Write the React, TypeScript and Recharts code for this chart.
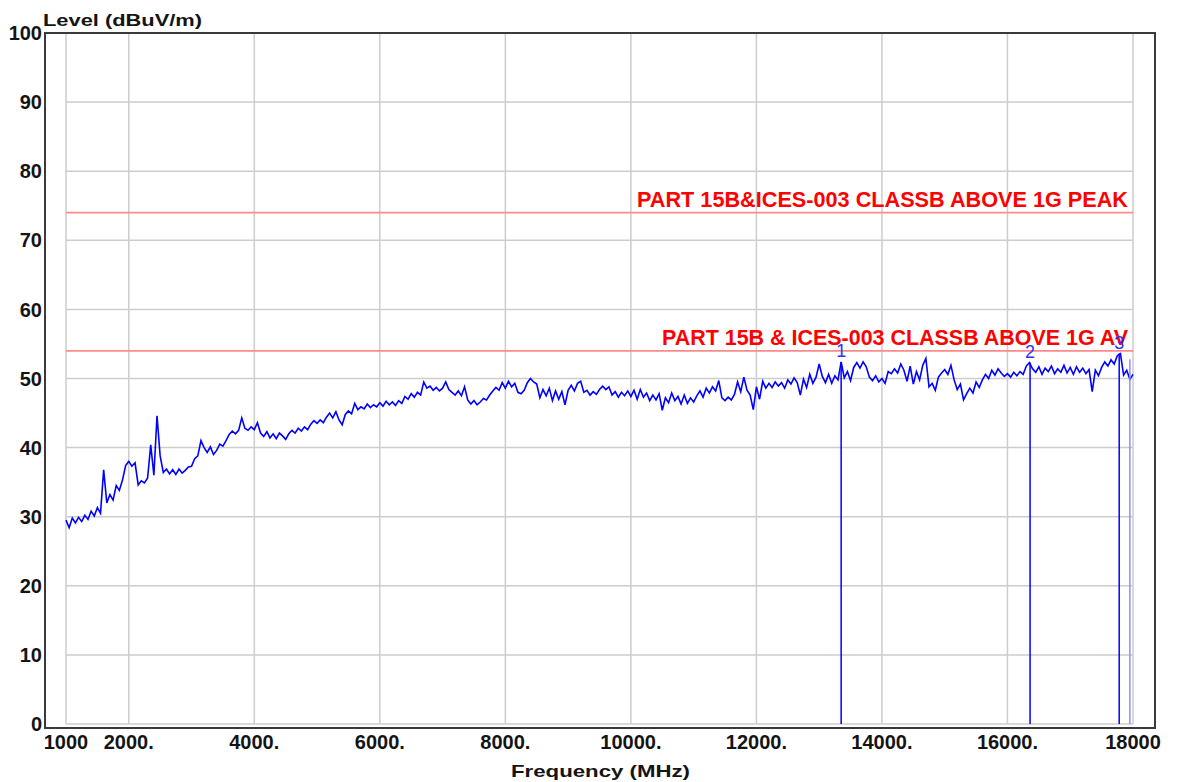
import React from 'react';
import { LineChart, Line, XAxis, YAxis, CartesianGrid, ReferenceLine, Label } from 'recharts';

// Sweep: 1000 MHz to 18000 MHz in 50 MHz steps
const startFreq = 1000;
const stepFreq = 50;

const levels: number[] = [
  29.5, 28.4, 29.8, 29.1, 29.9, 29.3, 30.2, 29.6, 30.8, 30.1, 31.3, 30.5, 36.8, 32.0, 33.2, 32.4, 34.5, 33.8, 35.3, 37.4,
  38.0, 37.3, 37.8, 34.6, 35.2, 34.9, 35.6, 40.4, 36.0, 44.6, 38.8, 36.4, 36.9, 36.2, 36.8, 36.1, 36.9, 36.3, 36.7, 37.2,
  37.3, 38.4, 38.8, 41.0, 40.0, 39.3, 40.1, 39.0, 39.6, 40.5, 40.2, 41.0, 41.9, 42.4, 42.0, 42.5, 44.3, 42.8, 42.5, 43.0,
  42.6, 43.6, 42.1, 41.6, 42.3, 41.4, 42.0, 41.3, 42.1, 41.7, 41.2, 42.0, 42.5, 42.1, 42.8, 42.4, 43.0, 42.6, 43.4, 43.9,
  43.5, 44.0, 43.6, 44.4, 45.0, 44.3, 45.2, 44.0, 43.3, 44.8, 45.3, 44.9, 46.4, 45.5, 45.9, 45.6, 46.3, 45.8, 46.2, 45.9,
  46.5, 46.0, 46.7, 46.2, 46.6, 46.1, 46.8, 46.4, 47.4, 47.0, 47.8, 47.3, 48.0, 47.6, 49.5, 48.6, 48.9, 48.3, 48.7, 48.2,
  48.6, 49.5, 48.4, 48.0, 47.6, 48.2, 47.5, 48.8, 46.9, 46.3, 46.8, 46.2, 46.6, 47.1, 46.9, 47.6, 48.2, 48.7, 48.3, 49.4,
  48.6, 49.6, 48.8, 49.3, 48.0, 47.8, 48.3, 49.4, 50.0, 49.5, 49.2, 47.2, 48.4, 47.5, 48.6, 46.8, 48.2, 47.0, 48.1, 46.2,
  48.3, 49.0, 48.2, 49.3, 49.6, 48.0, 48.3, 47.6, 48.1, 47.7, 48.4, 48.9, 48.4, 48.8, 47.6, 48.1, 47.3, 48.0, 47.5, 48.2,
  47.4, 48.3, 47.0, 48.4, 47.3, 47.9, 46.8, 47.6, 46.9, 47.8, 45.4, 47.2, 46.5, 47.9, 46.8, 47.4, 46.3, 47.6, 46.4, 47.2,
  46.6, 47.5, 48.2, 47.3, 48.6, 47.9, 48.8, 48.2, 49.7, 47.2, 46.8, 47.3, 46.9, 47.7, 49.5, 48.1, 50.2, 48.3, 47.6, 45.5,
  48.8, 47.0, 49.6, 48.6, 49.3, 48.7, 49.5, 48.9, 49.4, 48.6, 49.8, 49.2, 50.1, 49.4, 47.6, 49.9, 48.7, 50.6, 49.3, 50.2,
  52.1, 50.3, 49.4, 50.6, 49.3, 50.4, 49.8, 52.4, 50.1, 51.0, 49.7, 51.6, 52.3, 51.5, 52.4, 51.7, 50.2, 49.7, 50.4, 49.5,
  50.0, 49.3, 51.0, 50.7, 51.4, 50.8, 52.1, 51.2, 49.6, 51.8, 49.2, 51.0, 49.8, 51.9, 52.9, 48.8, 49.3, 48.3, 50.2, 50.8,
  51.3, 50.6, 51.9, 49.8, 48.4, 49.2, 46.9, 47.8, 48.6, 47.9, 49.5, 48.7, 49.8, 50.6, 50.0, 51.2, 50.5, 51.4, 50.8, 50.3,
  50.7, 50.2, 50.9, 50.4, 51.0, 50.6, 51.8, 52.3, 51.4, 50.9, 51.7, 50.6, 51.5, 51.0, 51.8, 50.7, 51.4, 50.9, 51.9, 50.8,
  51.6, 50.6, 51.7, 50.9, 51.5, 50.7, 51.3, 48.1, 51.2, 50.4, 51.6, 52.4, 51.8, 52.7, 52.1, 53.3, 53.6, 50.5, 51.2, 49.9,
  50.6,
];

const xTicks = [1000, 2000, 4000, 6000, 8000, 10000, 12000, 14000, 16000, 18000];
const xTickLabels = ['1000', '2000.', '4000.', '6000.', '8000.', '10000.', '12000.', '14000.', '16000.', '18000'];
const yTicks = [0, 10, 20, 30, 40, 50, 60, 70, 80, 90, 100];

const limitLevels = [74, 54];
const limitNames = ['PART 15B&ICES-003 CLASSB ABOVE 1G PEAK', 'PART 15B & ICES-003 CLASSB ABOVE 1G AV'];
const limitTextWidths = [491, 466];

const markerFreqs = [13350, 16360, 17780, 17950];
const markerLevels = [52.4, 52.3, 53.6, 52.8];
const markerNames = ['1', '2', '3', ''];
const markerColors = ['#0000ff', '#0000ff', '#0000ff', '#8c8cff'];

const data = levels.map((level, i) => ({ freq: startFreq + i * stepFreq, level }));

const FONT = "'Liberation Sans', Arial, Helvetica, sans-serif";
const tickStyle = { fontSize: 20, fontWeight: 'bold', fill: '#141414', fontFamily: FONT };

const LimitLabel = (props: any) => {
  const { viewBox, text, width } = props;
  if (!viewBox) return null;
  return (
    <text
      x={viewBox.x + viewBox.width - 5}
      y={viewBox.y - 6}
      textAnchor="end"
      fill="#ff0000"
      fontFamily={FONT}
      fontWeight="bold"
      fontSize={21.3}
      textLength={width}
      lengthAdjust="spacingAndGlyphs"
    >
      {text}
    </text>
  );
};

const MarkerLabel = (props: any) => {
  const { viewBox, text } = props;
  if (!viewBox || !text) return null;
  return (
    <text
      x={viewBox.x}
      y={viewBox.y - 5}
      textAnchor="middle"
      fill="#3030ff"
      fontFamily={FONT}
      fontSize={18}
    >
      {text}
    </text>
  );
};

export default function App() {
  return (
    <div style={{ position: 'absolute', left: 0, top: 0, width: 1179, height: 782, background: '#ffffff' }}>
      <LineChart width={1179} height={782} data={data} margin={{ top: 33, right: 46, bottom: 0, left: 0 }}>
        <CartesianGrid stroke="#cdcdcd" strokeWidth={1.5} />
        <XAxis
          dataKey="freq"
          type="number"
          domain={[1000, 18000]}
          ticks={xTicks}
          interval={0}
          tickFormatter={(v: number) => xTickLabels[xTicks.indexOf(v)]}
          axisLine={false}
          tickLine={false}
          tickSize={0}
          tickMargin={11}
          height={58}
          tick={tickStyle}
        >
          <Label
            content={(p: any) => (
              <text
                x={p.viewBox.x + p.viewBox.width / 2 + 1}
                y={p.viewBox.y + 53}
                textAnchor="middle"
                fill="#141414"
                fontFamily={FONT}
                fontWeight="bold"
                fontSize={17}
                textLength={179}
                lengthAdjust="spacingAndGlyphs"
              >
                Frequency (MHz)
              </text>
            )}
          />
        </XAxis>
        <YAxis
          type="number"
          domain={[0, 100]}
          ticks={yTicks}
          interval={0}
          axisLine={false}
          tickLine={false}
          tickSize={0}
          tickMargin={24}
          width={66}
          tick={tickStyle}
        >
          <Label
            content={(p: any) => (
              <text
                x={p.viewBox.x + 43}
                y={p.viewBox.y - 7}
                textAnchor="start"
                fill="#141414"
                fontFamily={FONT}
                fontWeight="bold"
                fontSize={17}
                textLength={159}
                lengthAdjust="spacingAndGlyphs"
              >
                Level (dBuV/m)
              </text>
            )}
          />
        </YAxis>
        {limitLevels.map((lv, i) => (
          <ReferenceLine
            key={'lim' + i}
            y={lv}
            stroke="#ff8a8a"
            strokeWidth={1.6}
            label={<LimitLabel text={limitNames[i]} width={limitTextWidths[i]} />}
          />
        ))}
        <Line
          type="linear"
          dataKey="level"
          stroke="#0000ff"
          strokeWidth={1.6}
          dot={false}
          isAnimationActive={false}
        />
        {markerFreqs.map((f, i) => (
          <ReferenceLine
            key={'mk' + i}
            segment={[{ x: f, y: 0 }, { x: f, y: markerLevels[i] }]}
            stroke={markerColors[i]}
            strokeWidth={1.5}
            label={<MarkerLabel text={markerNames[i]} />}
          />
        ))}
      </LineChart>
      <div
        style={{
          position: 'absolute',
          left: 44,
          top: 32,
          width: 1112,
          height: 697,
          border: '2px solid #3a3a3a',
          boxSizing: 'border-box',
          pointerEvents: 'none',
        }}
      />
    </div>
  );
}
